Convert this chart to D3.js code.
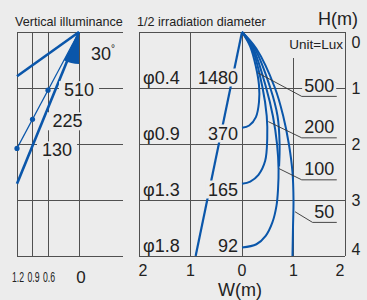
<!DOCTYPE html>
<html>
<head>
<meta charset="utf-8">
<script src="https://cdn.jsdelivr.net/npm/d3@7"></script>
<style>
  html, body { margin: 0; padding: 0; background: #ececec; }
  svg { display: block; font-family: "Liberation Sans", Arial, Helvetica, sans-serif; }
</style>
</head>
<body>
<div id="chart"></div>
<script>
// --- data ---
const heights = [0, 1, 2, 3, 4]                 // H (m)
const widthTicks = [-2, -1, 0, 1, 2]            // W (m)
const widthTickLabels = ["2", "1", "0", "1", "2"]
const vertTicks = [1.2, 0.9, 0.6, 0]
const vertTickLabels = ["1.2", "0.9", "0.6", "0"]

const centerLux = [1480, 370, 165, 92]          // at H = 1..4
const diameters = ["φ0.4", "φ0.9", "φ1.3", "φ1.8"]
const beamEdge = [[0, 0], [-0.9, 4]]            // 1/2 irradiation radius

const vertLux = [510, 225, 130]                 // vertical illuminance
const vertW = [0.6, 0.9, 1.2]
const angleDeg = 30
const wideLine = [[0, 0], [1.2, 0.79]]
const steepLine = [[0, 0], [1.2, 2.71]]

const isoLevels = [500, 200, 100, 50]
const iso500 = [[0, 0], [0.16, 0.26], [0.27, 0.62], [0.33, 0.95], [0.33, 1.25], [0.27, 1.52], [0.14, 1.67], [0, 1.71]]
const iso200 = [[0, 0], [0.2, 0.3], [0.4, 1.0], [0.48, 1.5], [0.49, 1.9], [0.45, 2.3], [0.32, 2.55], [0.16, 2.67], [0, 2.71]]
const iso100 = [[0, 0], [0.22, 0.3], [0.47, 1.0], [0.6, 1.5], [0.68, 2.0], [0.71, 2.45], [0.7, 2.8], [0.67, 3.1], [0.59, 3.4], [0.46, 3.64], [0.28, 3.79], [0, 3.85]]
const isoExtra = [[0, 0], [0.25, 0.3], [0.55, 1.0], [0.69, 1.5], [0.73, 2.0], [0.72, 2.4]]
const iso50 = [[0, 0], [0.28, 0.3], [0.64, 1.0], [0.8, 1.5], [0.91, 2.0], [0.98, 2.5], [1.0, 3.0], [0.99, 3.5], [0.98, 4.0]]
const isoCurves = [iso500, iso200, iso100, isoExtra, iso50]

// leader: point on curve -> elbow -> end of underline
const leaders = [
  [[0.31, 0.73], [1.16, 1.15], [1.84, 1.15]],
  [[0.51, 1.6], [1.16, 1.89], [1.84, 1.89]],
  [[0.72, 2.44], [1.16, 2.64], [1.84, 2.64]],
  [[1.03, 3.21], [1.37, 3.40], [1.84, 3.40]]
]

// --- layout ---
const width = 367, height = 300
const bg = "#ececec", blue = "#0a56aa", ink = "#222", grid = "#505050"

const svg = d3.select("#chart").append("svg")
  .attr("width", width)
  .attr("height", height)

svg.append("rect").attr("width", width).attr("height", height).attr("fill", bg)

const y = d3.scaleLinear().domain([0, 4]).range([32, 256])
const xR = d3.scaleLinear().domain([-2, 2]).range([139, 345])
const xL = d3.scaleLinear().domain([0, 1.2]).range([79, 17])

const gridG = svg.append("g").attr("stroke", grid).attr("stroke-width", 1).attr("shape-rendering", "crispEdges")
const markG = svg.append("g")
const labelG = svg.append("g")
const leaderG = svg.append("g")

// label with a background patch that hides lines beneath it
function label(text, x, yy, opts = {}) {
  const g = labelG.append("g")
  const t = g.append("text")
    .attr("x", x).attr("y", yy)
    .attr("font-size", opts.size || 18)
    .attr("text-anchor", opts.anchor || "start")
    .attr("fill", ink)
    .text(text)
  if (opts.bg) {
    const b = t.node().getBBox(), p = opts.pad || 2
    g.insert("rect", "text")
      .attr("x", b.x - p).attr("y", b.y + 1)
      .attr("width", b.width + 2 * p).attr("height", b.height - 2)
      .attr("fill", bg)
  }
  return t
}

// ---------- right panel: irradiation diameter / isolux ----------
gridG.selectAll(".hR").data(heights).join("line")
  .attr("x1", xR(-2)).attr("x2", xR(2))
  .attr("y1", d => y(d)).attr("y2", d => y(d))
gridG.selectAll(".vR").data(widthTicks).join("line")
  .attr("x1", d => xR(d)).attr("x2", d => xR(d))
  .attr("y1", d => d === 1 ? y(0.47) : y(0)).attr("y2", y(4))

const curveLine = d3.line()
  .x(d => xR(d[0])).y(d => y(d[1]))
  .curve(d3.curveCatmullRom.alpha(0.5))

markG.selectAll(".iso").data(isoCurves).join("path")
  .attr("d", curveLine)
  .attr("fill", "none").attr("stroke", blue).attr("stroke-width", 2)

markG.append("path")
  .attr("d", d3.line().x(d => xR(d[0])).y(d => y(d[1]))(beamEdge))
  .attr("fill", "none").attr("stroke", blue).attr("stroke-width", 2.2)

centerLux.forEach((v, i) => label(v, xR(0) - 4, y(i + 1) - 4.5, { anchor: "end", bg: true, pad: 2 }))
diameters.forEach((v, i) => label(v, xR(-2) + 4, y(i + 1) - 4.5, { bg: true }))

isoLevels.forEach((v, i) => {
  const u = leaders[i][2]
  label(v, xR(1.79), y(u[1]) - 4.5, { anchor: "end", bg: true, pad: 2 })
})
leaderG.selectAll(".leader").data(leaders).join("path")
  .attr("d", d3.line().x(d => xR(d[0])).y(d => y(d[1])))
  .attr("fill", "none").attr("stroke", "#333").attr("stroke-width", 0.9)

label("Unit=Lux", xR(2) - 2, 49, { anchor: "end", size: 13.5 })
label("1/2 irradiation diameter", xR(-2) - 2, 26, { size: 12.6 })
label("H(m)", 338, 25, { anchor: "middle", size: 18 })
label("W(m)", xR(0) - 2, 296, { anchor: "middle", size: 18 })

heights.forEach((h, i) => {
  const shift = i === 0 ? 10 : i === heights.length - 1 ? -7 : 0
  label(h, 356, y(h) + shift, { anchor: "middle", size: 16 }).attr("dominant-baseline", "central")
})
widthTicks.forEach((w, i) => {
  const shift = i === 0 ? 4 : i === widthTicks.length - 1 ? -5 : 0
  label(widthTickLabels[i], xR(w) + shift, 276, { anchor: "middle", size: 16 })
})

// ---------- left panel: vertical illuminance ----------
gridG.selectAll(".hL").data(heights).join("line")
  .attr("x1", xL(1.2)).attr("x2", 123)
  .attr("y1", d => y(d)).attr("y2", d => y(d))
gridG.selectAll(".vL").data(vertTicks).join("line")
  .attr("x1", d => xL(d)).attr("x2", d => xL(d))
  .attr("y1", y(0)).attr("y2", y(4))

const tanA = Math.tan(angleDeg * Math.PI / 180)
const ray = [[0, 0], [1.2, 1.2 / tanA]]
const lineL = d3.line().x(d => xL(d[0])).y(d => y(d[1]))

// filled angle wedge between the vertical and the 30° ray (pixel space)
const apex = [xL(0), y(0)]
const rayEnd = [xL(ray[1][0]), y(ray[1][1])]
const rayAng = Math.atan2(rayEnd[1] - apex[1], rayEnd[0] - apex[0])
const r = 32
markG.append("path")
  .attr("d", `M${apex[0]},${apex[1]} L${apex[0] + r * Math.cos(rayAng)},${apex[1] + r * Math.sin(rayAng)} A${r},${r} 0 0 0 ${apex[0]},${apex[1] + r} Z`)
  .attr("fill", blue)

markG.selectAll(".thick").data([wideLine, steepLine]).join("path")
  .attr("d", lineL)
  .attr("stroke", blue).attr("stroke-width", 2.6).attr("fill", "none")
markG.append("path")
  .attr("d", lineL(ray))
  .attr("stroke", blue).attr("stroke-width", 1.2).attr("fill", "none")

const labelOffsets = [[16, 6], [20, 8], [25, 8]]
vertLux.forEach((v, i) => {
  const px = xL(vertW[i]), py = y(vertW[i] / tanA)
  label(v, px + labelOffsets[i][0], py + labelOffsets[i][1], { bg: true, pad: 5 })
})
markG.selectAll(".dot").data(vertW).join("circle")
  .attr("cx", d => xL(d)).attr("cy", d => y(d / tanA))
  .attr("r", 2.6).attr("fill", blue)

const deg = label(angleDeg, 91, 60, { size: 18 })
deg.append("tspan").attr("font-size", 10).attr("dy", -8).text("°")

label("Vertical illuminance", 15, 26, { size: 12.6 })

// condensed tick labels under the left panel
vertTicks.forEach((v, i) => {
  if (i === 3) {
    label(vertTickLabels[i], xL(v) + 2, 283, { anchor: "middle", size: 17 })
  } else {
    label(vertTickLabels[i], 0, 0, { anchor: "middle", size: 15 })
      .attr("transform", `translate(${xL(v) + 1},282) scale(0.58,1)`)
  }
})
</script>
</body>
</html>
